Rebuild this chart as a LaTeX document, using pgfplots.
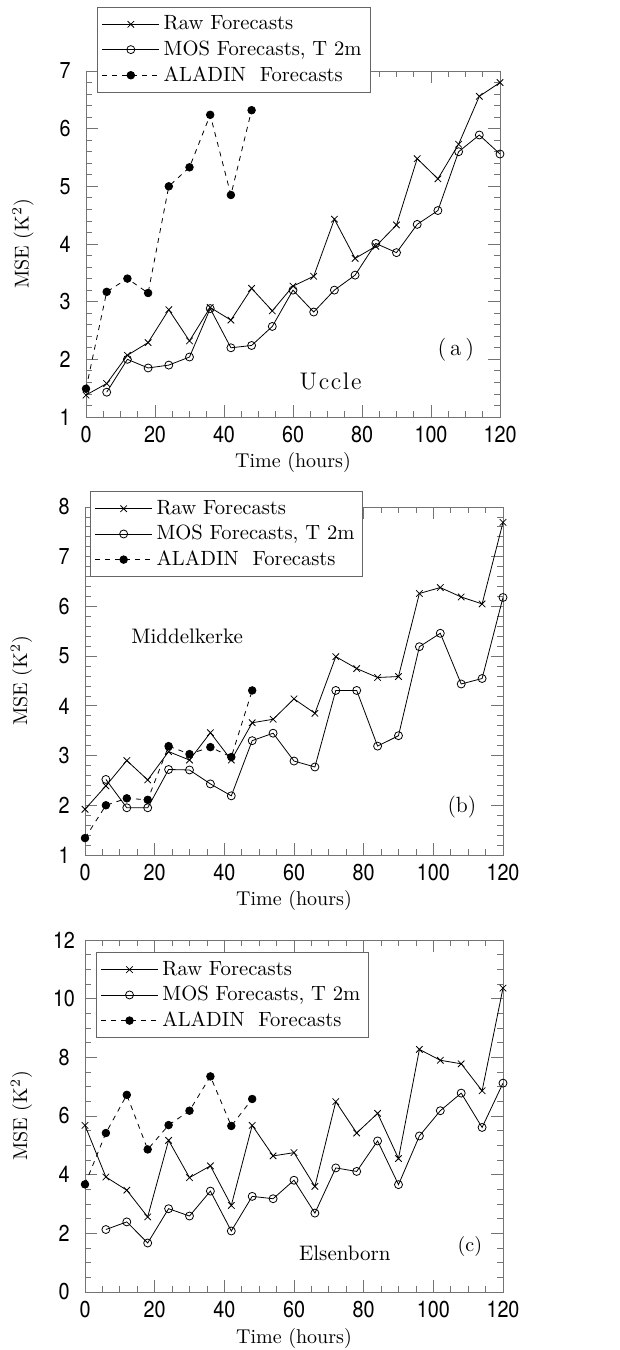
\documentclass[border=0pt]{standalone}
\usepackage{fontspec}
\usepackage{pgfplots}
\pgfplotsset{compat=1.18}
\newfontfamily\heros[FakeStretch=0.86]{TeX Gyre Heros}

\pgfplotsset{
  mypanel/.style={
    scale only axis,
    xmin=0, xmax=120,
    xtick={0,20,...,120},
    minor x tick num=3,
    tick align=inside,
    major tick length=6pt,
    minor tick length=2.8pt,
    axis line style={black!55},
    every tick/.style={black!55, line width=0.4pt},
    tick label style={font=\heros\fontsize{11.5}{13}\selectfont},
    /pgf/number format/assume math mode=true,
    yticklabel style={anchor=center, xshift=-10.5pt},
    xticklabel style={yshift=-1pt},
    label style={font=\fontsize{10.5}{12}\selectfont},
    xlabel={Time (hours)},
    ylabel={MSE (K$^2$)},
    every axis x label/.style={at={(axis description cs:0.5,-0.132)}, anchor=center},
    every axis y label/.style={at={(axis description cs:-0.152,0.5)}, anchor=center, rotate=90},
    legend cell align=left,
    legend image code/.code={\draw[mark repeat=2,mark phase=2,##1] plot coordinates {(0cm,0cm) (0.5cm,0cm) (1.0cm,0cm)};},
    legend style={draw=black!60, fill=white, font=\fontsize{10.3}{11.8}\selectfont, inner sep=2.2pt, row sep=0pt, anchor=north west},
  },
  raw/.style={black, line width=0.4pt, mark=x, mark size=2.3pt, mark options={solid}},
  mos/.style={black, line width=0.4pt, mark=o, mark size=2pt, mark options={solid, fill=white}},
  ala/.style={black, line width=0.4pt, dash pattern=on 2.5pt off 2.5pt, mark=*, mark size=1.9pt, mark options={solid, fill=black}},
}

\begin{document}
\begin{tikzpicture}
\useasboundingbox (0,0) rectangle (310pt,675pt);

% ---------- (a) Uccle ----------
\begin{axis}[mypanel,
  at={(43pt,466.5pt)}, anchor=south west,
  width=207pt, height=173pt,
  ymin=1, ymax=7, ytick={1,...,7}, minor y tick num=4,
  legend style={at={(axis description cs:0.027,1.185)}},
]
\addplot[raw] coordinates {(0,1.38) (6,1.58) (12,2.07) (18,2.29) (24,2.86) (30,2.32) (36,2.90) (42,2.68) (48,3.23) (54,2.84) (60,3.27) (66,3.44) (72,4.43) (78,3.75) (84,3.96) (90,4.33) (96,5.48) (102,5.13) (108,5.73) (114,6.56) (120,6.80)};
\addlegendentry{Raw Forecasts}
\addplot[mos] coordinates {(6,1.43) (12,2.00) (18,1.85) (24,1.90) (30,2.04) (36,2.88) (42,2.20) (48,2.24) (54,2.57) (60,3.20) (66,2.82) (72,3.20) (78,3.46) (84,4.01) (90,3.85) (96,4.34) (102,4.58) (108,5.60) (114,5.89) (120,5.56)};
\addlegendentry{MOS Forecasts, T 2m}
\addplot[ala] coordinates {(0,1.49) (6,3.17) (12,3.40) (18,3.15) (24,5.00) (30,5.33) (36,6.24) (42,4.85) (48,6.32)};
\addlegendentry{ALADIN\ \ Forecasts}
\node[font=\fontsize{11.5}{13}\selectfont] at (axis cs:107.2,2.17) {(\,a\,)};
\node[font=\fontsize{12}{14}\selectfont] at (axis cs:70.9,1.61) {U\kern0.8pt c\kern0.8pt c\kern0.8pt l\kern0.8pt e};
\end{axis}

% ---------- (b) Middelkerke ----------
\begin{axis}[mypanel,
  at={(42.5pt,247.5pt)}, anchor=south west,
  width=209pt, height=174pt,
  ymin=1, ymax=8, ytick={1,...,8}, minor y tick num=4,
  legend style={at={(axis description cs:0.012,1.045)}},
]
\addplot[raw] coordinates {(0,1.92) (6,2.39) (12,2.90) (18,2.51) (24,3.08) (30,2.91) (36,3.46) (42,2.91) (48,3.66) (54,3.73) (60,4.14) (66,3.85) (72,4.99) (78,4.75) (84,4.57) (90,4.59) (96,6.26) (102,6.38) (108,6.19) (114,6.05) (120,7.69)};
\addlegendentry{Raw Forecasts}
\addplot[mos] coordinates {(6,2.52) (12,1.95) (18,1.95) (24,2.72) (30,2.71) (36,2.43) (42,2.19) (48,3.30) (54,3.45) (60,2.89) (66,2.77) (72,4.31) (78,4.31) (84,3.19) (90,3.40) (96,5.19) (102,5.46) (108,4.44) (114,4.55) (120,6.18)};
\addlegendentry{MOS Forecasts, T 2m}
\addplot[ala] coordinates {(0,1.34) (6,2.00) (12,2.14) (18,2.11) (24,3.19) (30,3.03) (36,3.17) (42,2.97) (48,4.31)};
\addlegendentry{ALADIN\ \ Forecasts}
\node[font=\fontsize{11}{13}\selectfont] at (axis cs:108.2,1.97) {(b)};
\node[font=\fontsize{10.5}{12}\selectfont] at (axis cs:29.3,5.39) {Middelkerke};
\end{axis}

% ---------- (c) Elsenborn ----------
\begin{axis}[mypanel,
  at={(42.5pt,29pt)}, anchor=south west,
  width=209pt, height=176pt,
  ymin=0, ymax=12, ytick={0,2,...,12}, minor y tick num=3,
  legend style={at={(axis description cs:0.026,0.965)}},
]
\addplot[raw] coordinates {(0,5.68) (6,3.92) (12,3.47) (18,2.56) (24,5.17) (30,3.90) (36,4.30) (42,2.95) (48,5.68) (54,4.64) (60,4.75) (66,3.60) (72,6.49) (78,5.42) (84,6.09) (90,4.55) (96,8.27) (102,7.90) (108,7.78) (114,6.86) (120,10.36)};
\addlegendentry{Raw Forecasts}
\addplot[mos] coordinates {(6,2.13) (12,2.39) (18,1.67) (24,2.84) (30,2.59) (36,3.44) (42,2.08) (48,3.26) (54,3.18) (60,3.81) (66,2.69) (72,4.23) (78,4.11) (84,5.15) (90,3.66) (96,5.32) (102,6.18) (108,6.78) (114,5.61) (120,7.12)};
\addlegendentry{MOS Forecasts, T 2m}
\addplot[ala] coordinates {(0,3.67) (6,5.42) (12,6.72) (18,4.86) (24,5.69) (30,6.18) (36,7.35) (42,5.66) (48,6.58)};
\addlegendentry{ALADIN\ \ Forecasts}
\node[font=\fontsize{10}{12}\selectfont] at (axis cs:110.5,1.54) {(c)};
\node[font=\fontsize{10.5}{12}\selectfont] at (axis cs:74.6,1.33) {Elsenborn};
\end{axis}
\end{tikzpicture}
\end{document}
